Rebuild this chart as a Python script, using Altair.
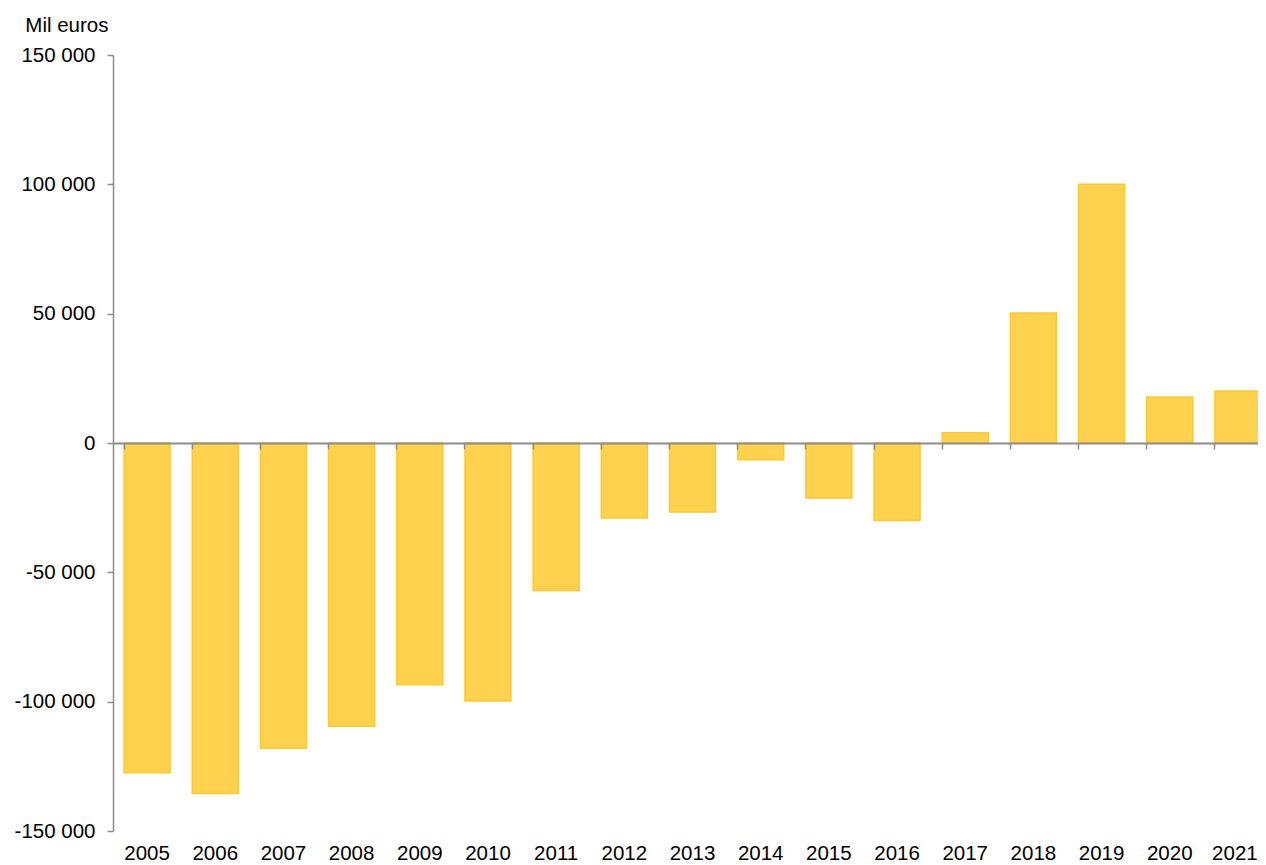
import altair as alt
import pandas as pd

years = [str(y) for y in range(2005, 2022)]
values = [-127500, -135500, -118000, -109500, -93500, -99700, -57000, -29000,
          -26700, -6500, -21300, -30000, 4000, 50300, 100000, 17800, 20100]
y_ticks = [-150000, -100000, -50000, 0, 50000, 100000, 150000]

df = pd.DataFrame({"year": years, "value": values})

FONT = "Liberation Sans"
GRAY = "#8c8c8c"

xscale = alt.Scale(range=[0, 1159], paddingInner=0.325, paddingOuter=0.1625)
yscale = alt.Scale(domain=[-150000, 150000], nice=False, zero=False)

label_expr = "(datum.value < 0 ? '-' : '') + replace(format(abs(datum.value), ',d'), ',', ' ')"

bars = alt.Chart(df).mark_bar(
    color="#fed14e", stroke="#fdc832", strokeWidth=1.5
).encode(
    x=alt.X("year:N", scale=xscale, sort=years,
            axis=alt.Axis(orient="bottom", title=None, domain=False, ticks=False,
                          labelAngle=0, labelFont=FONT, labelFontSize=20.5,
                          labelColor="#000000", labelPadding=12,
                          labelOffset=alt.ExprRef("datum.value == '2021' ? -3 : 0"))),
    y=alt.Y("value:Q", scale=yscale,
            axis=alt.Axis(values=y_ticks, labelExpr=label_expr, grid=False,
                          domainColor=GRAY, domainWidth=1.5, tickColor=GRAY,
                          tickWidth=1.5, tickSize=6, labelPadding=12,
                          labelFont=FONT, labelFontSize=20.5, labelColor="#000000",
                          title="Mil euros", titleAngle=0, titleAlign="right",
                          titleBaseline="alphabetic", titleX=-5, titleY=-24,
                          titleFont=FONT, titleFontSize=20.5, titleFontWeight="normal",
                          titleColor="#000000")),
)

zero_axis = alt.Chart(df).mark_point(opacity=0).encode(
    x=alt.X("year:N", scale=xscale, sort=years,
            axis=alt.Axis(orient="bottom", title=None, labels=False, offset=-388,
                          bandPosition=0, domainColor=GRAY, domainWidth=2,
                          tickColor=GRAY, tickWidth=1.5, tickSize=6, zindex=1)),
)

chart = alt.layer(bars, zero_axis).resolve_axis(x="independent").properties(
    width=1145, height=776,
    autosize=alt.AutoSizeParams(type="none"),
    padding={"left": 105, "top": 47, "right": 0, "bottom": 34},
).configure_view(stroke=None)

chart.save("out.html", embed_options={"renderer": "svg", "actions": False})
